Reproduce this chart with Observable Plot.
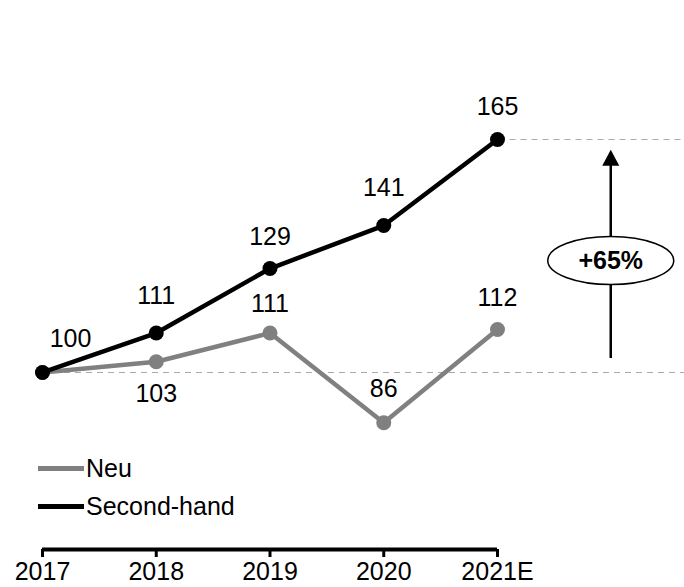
<!DOCTYPE html>
<html><head><meta charset="utf-8">
<script src="https://cdn.jsdelivr.net/npm/d3@7"></script>
<script src="https://cdn.jsdelivr.net/npm/@observablehq/plot@0.6"></script>
<style>
body{margin:0;background:#fff;font-family:"Liberation Sans",Arial,sans-serif;}
#wrap{position:relative;width:684px;height:587px;}
.leg{position:absolute;left:38px;font-size:25px;display:flex;align-items:center;color:#000;line-height:30px;}
.leg .sw{width:46px;height:5px;margin-right:2px;}
</style></head>
<body><div id="wrap"></div>
<script>
const years = ["2017","2018","2019","2020","2021E"];
const neu = [100,103,111,86,112];
const secondHand = [100,111,129,141,165];
const changeLabel = "+65%";
const seriesNames = ["Neu","Second-hand"];

const GRAY = "#808080";
const FS = 25;
const yMin = 50.62, yMax = 203.78;
const rows = years.map((y,i)=>({i, year:y, neu:neu[i], sh:secondHand[i]}));
const shDy = [-33,-37,-32,-38,-33];
const shDx = [28,0,0,0,0];
const neuDy = [null,32,-29,-34,-31];
const baseVal = secondHand[0], topVal = secondHand[secondHand.length-1];
const arrowX = years.length;

function annotation(index, scales){
  const ns="http://www.w3.org/2000/svg";
  const g=document.createElementNS(ns,"g");
  const cx=scales.x(arrowX);
  const y1=scales.y(baseVal+3.9), y2=scales.y(topVal-3.0);
  const cy=scales.y((baseVal+topVal)/2)+5;
  const line=document.createElementNS(ns,"line");
  line.setAttribute("x1",cx);line.setAttribute("x2",cx);
  line.setAttribute("y1",y1);line.setAttribute("y2",y2+14);
  line.setAttribute("stroke","#000");line.setAttribute("stroke-width","2.5");
  g.appendChild(line);
  const tri=document.createElementNS(ns,"path");
  tri.setAttribute("d",`M${cx},${y2} L${cx-8.5},${y2+16} L${cx+8.5},${y2+16}Z`);
  tri.setAttribute("fill","#000");
  g.appendChild(tri);
  const el=document.createElementNS(ns,"ellipse");
  el.setAttribute("cx",cx);el.setAttribute("cy",cy);
  el.setAttribute("rx",63);el.setAttribute("ry",24);
  el.setAttribute("fill","#fff");el.setAttribute("stroke","#000");el.setAttribute("stroke-width","1.5");
  g.appendChild(el);
  const t=document.createElementNS(ns,"text");
  t.setAttribute("x",cx);t.setAttribute("y",cy);
  t.setAttribute("dy","0.35em");t.setAttribute("text-anchor","middle");
  t.setAttribute("font-size","25");t.setAttribute("font-weight","bold");
  t.setAttribute("font-family","Liberation Sans, Arial, sans-serif");
  t.textContent=changeLabel;
  g.appendChild(t);
  return g;
}

const plot = Plot.plot({
  width:684, height:587,
  marginLeft:42, marginRight:0, marginTop:0, marginBottom:38,
  style:{fontFamily:"Liberation Sans, Arial, sans-serif", fontSize:FS+"px", color:"#000", background:"#fff"},
  x:{domain:[0,5.644]},
  y:{domain:[yMin,yMax], axis:null},
  marks:[
    Plot.ruleY([topVal],{x1:4.11,x2:5.644,stroke:"#aaa",strokeDasharray:"6,5",strokeWidth:1.2}),
    Plot.ruleY([baseVal],{x1:0,x2:5.644,stroke:"#aaa",strokeDasharray:"6,5",strokeWidth:1.2}),
    Plot.ruleY([yMin],{x1:0,x2:4,stroke:"#000",strokeWidth:4}),
    Plot.axisX({ticks:[0,1,2,3,4], tickFormat:i=>years[i], tickSize:8, tickPadding:5, strokeWidth:3, fontSize:FS, label:null}),
    Plot.line(rows,{x:"i",y:"neu",stroke:GRAY,strokeWidth:4.5}),
    Plot.dot(rows,{x:"i",y:"neu",fill:GRAY,r:7.5}),
    Plot.line(rows,{x:"i",y:"sh",stroke:"#000",strokeWidth:4.5}),
    Plot.dot(rows,{x:"i",y:"sh",fill:"#000",r:7.5}),
    ...rows.map((d,k)=>Plot.text([d],{x:"i",y:"sh",text:d=>String(d.sh),dy:shDy[k],dx:shDx[k],fontSize:FS,fill:"#000"})),
    ...rows.filter((d,k)=>neuDy[k]!==null).map(d=>Plot.text([d],{x:"i",y:"neu",text:d=>String(d.neu),dy:neuDy[d.i],fontSize:FS,fill:"#000"})),
    annotation
  ]
});
const wrap=document.getElementById("wrap");
wrap.appendChild(plot);
const legColors=[GRAY,"#000"];
const legTops=[453,491];
seriesNames.forEach((n,k)=>{
  const d=document.createElement("div");
  d.className="leg";d.style.top=legTops[k]+"px";
  d.innerHTML=`<span class="sw" style="background:${legColors[k]}"></span><span>${n}</span>`;
  wrap.appendChild(d);
});
</script></body></html>
